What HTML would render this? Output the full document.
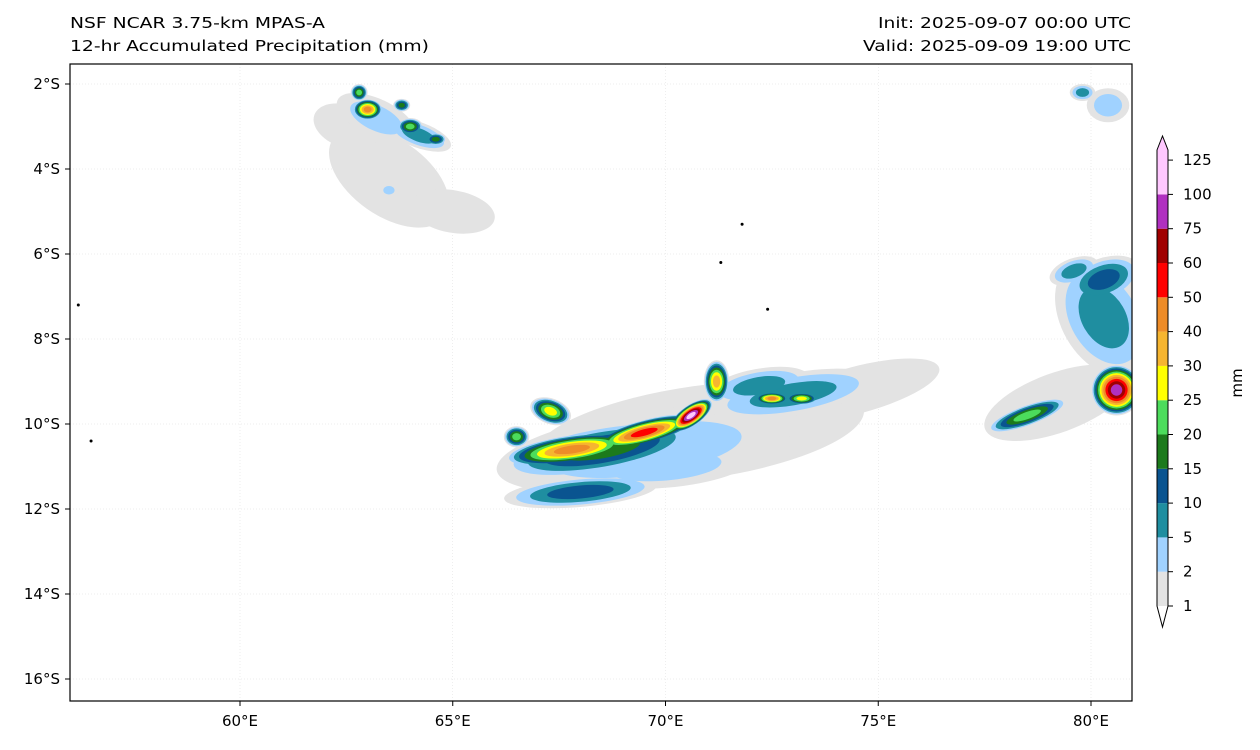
<!DOCTYPE html>
<html><head><meta charset="utf-8"><style>
body{margin:0;background:#fff;font-family:"Liberation Sans","DejaVu Sans",sans-serif}
svg text{font-family:"DejaVu Sans","Liberation Sans",sans-serif;font-size:15px;fill:#000}
</style></head><body>
<svg id="chart" width="1260" height="745">
<defs><clipPath id="mapclip"><rect x="70" y="64" width="1062" height="637"/></clipPath></defs>
<text x="70" y="28" textLength="255" lengthAdjust="spacingAndGlyphs">NSF NCAR 3.75-km MPAS-A</text>
<text x="70" y="51" textLength="359" lengthAdjust="spacingAndGlyphs">12-hr Accumulated Precipitation (mm)</text>
<text x="878" y="28" textLength="253" lengthAdjust="spacingAndGlyphs">Init: 2025-09-07 00:00 UTC</text>
<text x="863" y="51" textLength="268" lengthAdjust="spacingAndGlyphs">Valid: 2025-09-09 19:00 UTC</text>
<g id="grid"></g>
<g id="precip" clip-path="url(#mapclip)"></g>
<g id="islands"></g>
<rect x="70" y="64" width="1062" height="637" fill="none" stroke="#000" stroke-width="1.2"/>
<g id="axes"></g>
<g id="cbar"></g>
<text transform="translate(1242,383) rotate(-90)" text-anchor="middle">mm</text>
</svg>
<script>
const lonTicks=[60,65,70,75,80];
const latTicks=[2,4,6,8,10,12,14,16];
const levels=[1,2,5,10,15,20,25,30,40,50,60,75,100,125];
const colors=["#e3e3e3","#a0d2ff","#1f8ea0","#0a5490","#1c7a1c","#4cdc5c","#ffff00","#f6b530","#ee8c28","#ff0000","#a00000","#b030c0","#ffc8ff"];
// cells: [lon, latS, rxDeg, ryDeg, maxLevelIndex, rotation]
const cellLon=[63.5,65,62.5,63.2,63.0,62.8,63.8,64.0,64.6,63.5,70.8,74.5,69.5,73,68.5,67.8,69.5,70.6,71.2,67.3,66.5,72.5,73.2,68,79.2,80.3,80.6,78.5,80.3,80.4,64.2,70.0,72.2,79.6,79.8];
const cellLat=[4.2,5.0,3.0,2.8,2.6,2.2,2.5,3.0,3.3,4.5,10.2,9.2,10.6,9.3,10.6,10.6,10.2,9.8,9.0,9.7,10.3,9.4,9.4,11.6,9.5,7.5,9.2,9.8,6.6,2.5,3.2,11.0,9.1,6.4,2.2];
const cellRx=[1.6,1.0,0.8,1.0,0.35,0.2,0.2,0.3,0.25,0.2,3.9,2.0,3.5,2,2.4,1.6,1.3,0.6,0.3,0.5,0.3,0.4,0.4,1.8,1.8,1.0,0.6,1,0.9,0.5,0.8,2.0,1.2,0.6,0.3];
const cellRy=[0.9,0.5,0.5,0.45,0.25,0.2,0.15,0.2,0.15,0.15,1.1,0.55,0.9,0.5,0.55,0.35,0.3,0.25,0.5,0.3,0.25,0.15,0.15,0.35,0.7,1.5,0.6,0.25,0.5,0.4,0.3,0.5,0.4,0.3,0.2];
const cellMax=[0,0,0,1,8,5,4,5,4,1,0,0,1,2,4,8,9,12,7,6,5,8,6,3,0,2,11,5,3,1,2,1,2,2,2];
const cellRot=[35,10,20,25,0,0,0,0,0,0,-8,-15,-8,-10,-10,-8,-15,-35,0,20,0,0,0,-5,-20,-30,0,-20,-20,0,20,-5,-10,-20,0];
const islandLon=[56.2,56.5,71.8,71.3,72.4];
const islandLat=[7.2,10.4,5.3,6.2,7.3];

const NS="http://www.w3.org/2000/svg";
const PX=42.55;
const xS=lon=>240+(lon-60)*PX;
const yS=lat=>84+(lat-2)*42.5;
function mk(tag,attrs,parent){const e=document.createElementNS(NS,tag);for(const k in attrs)e.setAttribute(k,attrs[k]);parent.appendChild(e);return e;}
const grid=document.getElementById('grid'),axes=document.getElementById('axes');
lonTicks.forEach(l=>{
  const ln=mk('line',{x1:xS(l),x2:xS(l),y1:64,y2:701,stroke:'#ddd','stroke-width':0.5,'stroke-dasharray':'1,2'},grid);
  
  
  const t=mk('text',{x:xS(l),y:726,'text-anchor':'middle'},axes);t.textContent=l+'°E';
  
  
  mk('line',{x1:xS(l),x2:xS(l),y1:701,y2:706,stroke:'#000'},axes);
});
latTicks.forEach(l=>{
  const ln=mk('line',{x1:70,x2:1132,y1:yS(l),y2:yS(l),stroke:'#ddd','stroke-width':0.5,'stroke-dasharray':'1,2'},grid);
  
  
  const t=mk('text',{x:60,y:yS(l)+5,'text-anchor':'end'},axes);t.textContent=l+'°S';
  
  
  mk('line',{x1:65,x2:70,y1:yS(l),y2:yS(l),stroke:'#000'},axes);
});
const pr=document.getElementById('precip');
for(let lev=0;lev<colors.length;lev++){
  for(let i=0;i<cellLon.length;i++){
    if(cellMax[i]<lev)continue;
    const f=Math.pow((cellMax[i]+1-lev)/(cellMax[i]+1),0.6);
    const cx=xS(cellLon[i]),cy=yS(cellLat[i]);
    const e=mk('ellipse',{cx:cx,cy:cy,rx:cellRx[i]*PX*f,ry:cellRy[i]*42.5*f,fill:colors[lev],transform:`rotate(${cellRot[i]} ${cx} ${cy})`},pr);
    
    
  }
}
const isl=document.getElementById('islands');
islandLon.forEach((l,i)=>{
  const c=mk('circle',{cx:xS(l),cy:yS(islandLat[i]),r:1.5,fill:'#000'},isl);
  
  
});
const cb=document.getElementById('cbar');
const cbY=v=>606-levels.indexOf(v)*34.3;
const x0=1157,x1=1168;
for(let k=0;k<colors.length;k++){
  const yTop=k<colors.length-1?cbY(levels[k+1]):150;
  const yBot=cbY(levels[k]);
  const r=mk('rect',{x:x0,y:yTop,width:x1-x0,height:yBot-yTop,fill:colors[k]},cb);
  
  
}
mk('polygon',{points:`${x0},150 ${(x0+x1)/2},136 ${x1},150`,fill:colors[12]},cb);
mk('polygon',{points:`${x0},606 ${(x0+x1)/2},627 ${x1},606`,fill:'#fff'},cb);
mk('path',{d:`M${x0},150 L${(x0+x1)/2},136 L${x1},150 L${x1},606 L${(x0+x1)/2},627 L${x0},606 Z`,fill:'none',stroke:'#000','stroke-width':1},cb);
levels.forEach(v=>{
  mk('line',{x1:x1,x2:x1+5,y1:cbY(v),y2:cbY(v),stroke:'#000'},cb);
  const t=mk('text',{x:1183,y:cbY(v)+5},cb);t.textContent=v;
  
  
});
</script>
</body></html>
